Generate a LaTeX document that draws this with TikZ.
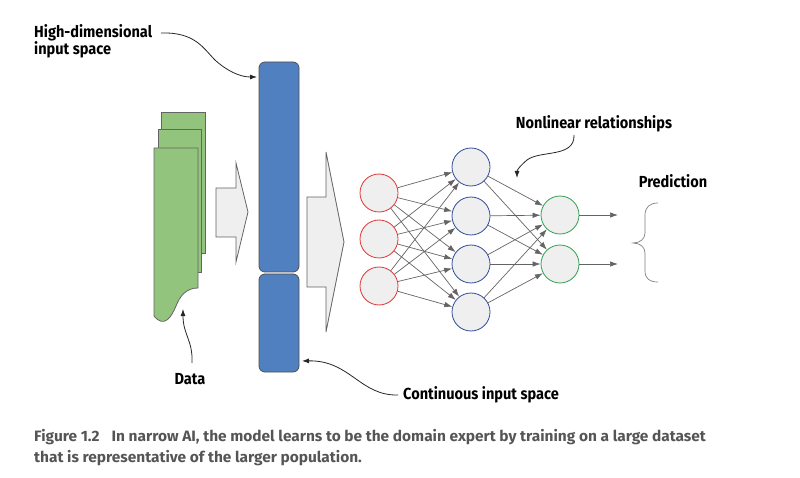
\documentclass[tikz,border=0pt]{standalone}
\usepackage{fontspec}
\setmainfont{Fira Sans}
\newfontfamily\labelfont[FakeStretch=0.91]{Fira Sans}
\newfontfamily\capfont[FakeStretch=1.03]{Fira Sans}
\usetikzlibrary{arrows.meta}
\definecolor{docgreen}{RGB}{147,196,125}
\definecolor{barblue}{RGB}{80,128,192}
\definecolor{nodegray}{RGB}{238,239,238}
\definecolor{redline}{RGB}{226,52,52}
\definecolor{blueline}{RGB}{48,76,156}
\definecolor{greenline}{RGB}{48,160,80}
\definecolor{edgegray}{RGB}{100,100,100}
\definecolor{capgray}{RGB}{85,85,85}
\tikzset{
  doc/.style={draw=edgegray,fill=docgreen,line width=0.8pt},
  bar/.style={draw=edgegray!80!black,fill=barblue,line width=0.8pt,rounded corners=6pt},
  bigarrow/.style={draw=edgegray,fill=nodegray,line width=0.8pt,line join=miter},
  neuron/.style={circle,minimum size=38pt,inner sep=0pt,fill=nodegray,line width=0.8pt},
  redn/.style={neuron,draw=redline},
  bluen/.style={neuron,draw=blueline},
  greenn/.style={neuron,draw=greenline},
  link/.style={draw=edgegray,line width=0.7pt,-{Latex[length=8pt,width=5.5pt]}},
  callout/.style={draw=black!85,line width=0.8pt,-{Latex[length=7pt,width=5pt]}},
  lbl/.style={font=\labelfont\bfseries\fontsize{16}{17}\selectfont,text=black,inner sep=0pt},
  captext/.style={font=\capfont\bfseries\fontsize{15}{20}\selectfont,text=capgray,inner sep=0pt,anchor=west}
}
\begin{document}
\begin{tikzpicture}[x=1pt,y=-1pt]
\useasboundingbox (0,0) rectangle (800,478);
% documents
\draw[doc] (161,112) rectangle (205,253);
\draw[doc] (158,129) rectangle (201,272);
\draw[doc] (154,148) -- (198,148) -- (198,288) .. controls (186,288) and (180,296) .. (176,306) .. controls (171,318) and (164,328) .. (154,316) -- cycle;
% big arrows
\draw[bigarrow] (216,188) -- (236,188) -- (236,163) -- (248,212) -- (236,262) -- (236,237) -- (216,237) -- cycle;
\draw[bigarrow] (307,197) -- (326,197) -- (326,152) -- (344,242) -- (326,332) -- (326,287) -- (307,287) -- cycle;
% bars
\draw[bar] (259,62) rectangle (299,272);
\draw[bar] (259,274) rectangle (299,372);
% neurons
\node[redn] (r1) at (379,193) {};
\node[redn] (r2) at (379,239) {};
\node[redn] (r3) at (379,286) {};
\node[bluen] (b1) at (471,167) {};
\node[bluen] (b2) at (471,216) {};
\node[bluen] (b3) at (471,264) {};
\node[bluen] (b4) at (471,312) {};
\node[greenn] (g1) at (560,215) {};
\node[greenn] (g2) at (560,264) {};
\coordinate (o1) at (618,215);
\coordinate (o2) at (618,264);
\foreach \r in {r1,r2,r3}{\foreach \b in {b1,b2,b3,b4}{\draw[link] (\r) -- (\b);}}
\foreach \b in {b1,b2,b3,b4}{\foreach \g in {g1,g2}{\draw[link] (\b) -- (\g);}}
\draw[link] (g1) -- (o1);
\draw[link] (g2) -- (o2);
% brace
\draw[draw=gray,line width=0.7pt] (658,203) .. controls (650,203) and (645,207) .. (645,215) -- (645,233) .. controls (645,239) and (640,243) .. (633,243) .. controls (640,243) and (645,247) .. (645,253) -- (645,271) .. controls (645,279) and (650,282) .. (658,282);
% labels
\node[lbl,anchor=north west,align=left] (hd) at (34,24) {High-dimensional\\input space};
\node[lbl] (nl) at (594,124) {Nonlinear relationships};
\node[lbl] (pr) at (673,181) {Prediction};
\node[lbl] (da) at (190,379) {Data};
\node[lbl,anchor=west] (ci) at (403,395) {Continuous input space};
\coordinate (hds) at (161,33);
\coordinate (hdt) at (257,77);
\coordinate (nls) at (574,135);
\coordinate (nlt) at (517,178);
\coordinate (das) at (192,363);
\coordinate (dat) at (183,309);
\coordinate (cis) at (398,395);
\coordinate (cit) at (302,361);
\draw[callout] (hds) .. controls (195,32) and (203,48) .. (215,60) .. controls (227,71) and (240,77) .. (hdt);
\draw[callout] (nls) .. controls (575,158) and (540,150) .. (527,160) .. controls (520,166) and (517,170) .. (nlt);
\draw[callout] (das) .. controls (193,340) and (183,335) .. (dat);
\draw[callout] (cis) .. controls (360,396) and (350,360) .. (cit);
% caption
\node[captext] (c1) at (34,437) {Figure 1.2\hspace{12pt}In narrow AI, the model learns to be the domain expert by training on a large dataset};
\node[captext] (c2) at (34,458) {that is representative of the larger population.};
\end{tikzpicture}
\end{document}
